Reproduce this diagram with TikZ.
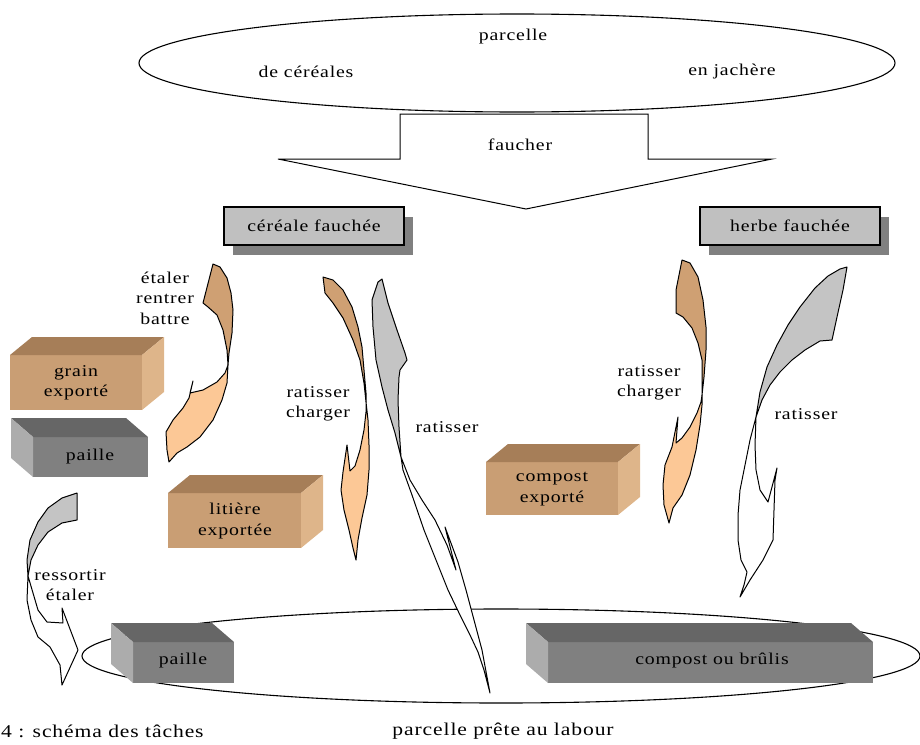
\documentclass[tikz,border=0pt]{standalone}
\usepackage{fontspec}
\setmainfont{Liberation Serif}[FakeStretch=1.2,LetterSpace=5]
\usepackage{tikz}
\usetikzlibrary{
    shapes.geometric,
    shadows
}
\definecolor{TanFront}{RGB}{201,158,116}
\definecolor{TanTop}{RGB}{166,126,88}
\definecolor{TanSide}{RGB}{222,181,138}
\definecolor{SlateFront}{RGB}{128,128,128}
\definecolor{SlateTop}{RGB}{102,102,102}
\definecolor{SlateSide}{RGB}{172,172,172}
\definecolor{TagGray}{RGB}{192,192,192}
\definecolor{ShadowGray}{RGB}{128,128,128}
\definecolor{RibbonTan}{RGB}{207,160,115}
\definecolor{RibbonPeach}{RGB}{252,200,150}
\definecolor{RibbonGray}{RGB}{196,196,196}
% crate with its side face on the right / on the left
\newcommand{\crateR}[5]{%
    \fill[#5Front] (#1,#2) rectangle (#3,#4);
    \fill[#5Top] (#1,#2) -- ++(22,-18) -- ({#3+22},{#2-18}) -- (#3,#2) -- cycle;
    \fill[#5Side] (#3,#2) -- ++(22,-18) -- ({#3+22},{#4-18}) -- (#3,#4) -- cycle;
}
\newcommand{\crateL}[5]{%
    \fill[#5Front] (#1,#2) rectangle (#3,#4);
    \fill[#5Top] (#1,#2) -- ++(-22,-19) -- ({#3-22},{#2-19}) -- (#3,#2) -- cycle;
    \fill[#5Side] (#1,#2) -- ++(-22,-19) -- ({#1-22},{#4-19}) -- (#1,#4) -- cycle;
}

\begin{document}
\begin{tikzpicture}[
    x=1pt,y=-1pt,
    word/.style={font=\fontsize{16.5}{20.5}\selectfont, align=center, inner sep=0pt},
    bigword/.style={font=\fontsize{18}{21}\selectfont, inner sep=0pt},
    field/.style={ellipse, draw, line width=1.1pt, inner sep=0pt},
    tag/.style={
        word,
        draw=black,
        line width=1.2pt,
        fill=TagGray,
        minimum width=180pt,
        minimum height=38pt,
        drop shadow={shadow xshift=9pt, shadow yshift=-10pt, fill=ShadowGray, opacity=1}
    },
    ribbon/.style={draw=black, line width=1pt, line join=round}
]
%
    \useasboundingbox (0,0) rectangle (920,744);
%
    \node[
        field,
        minimum width=756pt,
        minimum height=98pt
    ] (crop) at (517,63) {};
    \node[word] (crophead) at (513,37) {parcelle};
    \node[word] (cereal) at (306,72) {de céréales};
    \node[word] (fallow) at (732,72) {en jachère};
%
    \draw[
        line width=1pt,
        fill=white
    ]
    (400,114) -- (648,114) -- (648,159) -- (772,159)
    -- (526,209) -- (278,159) -- (400,159) -- cycle;
    \node[word] (mow) at (520,145) {faucher};
%
    \node[tag] (cutcereal) at (314,226) {céréale fauchée};
    \node[tag] (cutgrass) at (790,226) {herbe fauchée};
%
    \node[
        field,
        minimum width=838pt,
        minimum height=94pt
    ] (ready) at (501,656) {};
%
    \crateR{10}{355}{142}{410}{Tan}
    \crateL{33}{437}{148}{477}{Slate}
    \crateR{168}{493}{301}{548}{Tan}
    \crateR{486}{462}{618}{515}{Tan}
    \crateL{133}{642}{234}{683}{Slate}
    \crateL{548}{642}{873}{683}{Slate}
%
    % étaler rentrer battre
    \draw[ribbon, fill=RibbonTan]
    (213,264) -- (220,267) -- (227,278) -- (231,293) -- (233,310)
    -- (232,333) -- (229,353) -- (228,365) -- (227,350) -- (223,330)
    -- (217,315) -- (208,307) -- (203,303) -- cycle;
    \draw[ribbon, fill=RibbonPeach]
    (228,365) -- (227,383) -- (222,400) -- (213,420) -- (200,437)
    -- (187,447) -- (177,453) -- (169,462) -- (167,450) -- (166,432)
    -- (173,420) -- (183,408) -- (189,398) -- (193,381) -- (190,393)
    -- (203,390) -- (217,382) -- (225,373) -- cycle;
%
    % ratisser charger, left
    \draw[ribbon, fill=RibbonTan]
    (323,277) -- (333,280) -- (343,290) -- (352,307) -- (358,327)
    -- (362,347) -- (364,370) -- (366,393) -- (366,402) -- (364,383)
    -- (360,360) -- (353,340) -- (343,318) -- (333,303) -- (325,293) -- cycle;
    \draw[ribbon, fill=RibbonPeach]
    (366,402) -- (368,420) -- (369,445) -- (369,470) -- (367,495)
    -- (362,518) -- (358,540) -- (356,560) -- (353,548) -- (349,530)
    -- (344,510) -- (341,490) -- (343,472) -- (347,445) -- (350,471)
    -- (355,466) -- (360,450) -- (364,430) -- (366,412) -- cycle;
%
    % ratisser, middle
    \draw[ribbon, fill=RibbonGray]
    (378,282) -- (382,279) -- (388,303) -- (397,330) -- (405,353)
    -- (407,360) -- (400,370) -- (399,377) -- (398,400) -- (399,427)
    -- (401,457) -- (395,433) -- (388,410) -- (382,387) -- (376,360)
    -- (373,327) -- (372,300) -- cycle;
    \draw[ribbon, fill=white]
    (401,457) -- (410,480) -- (422,500) -- (435,520) -- (447,545)
    -- (456,570) -- (445,527) -- (458,562) -- (466,590) -- (474,620)
    -- (482,650) -- (490,693) -- (484,670) -- (478,652) -- (470,635)
    -- (460,615) -- (448,590) -- (436,560) -- (424,530) -- (412,495)
    -- (403,470) -- cycle;
%
    % ratisser charger, right
    \draw[ribbon, fill=RibbonTan]
    (682,260) -- (690,263) -- (698,277) -- (703,300) -- (706,327)
    -- (706,350) -- (704,377) -- (702,395) -- (702,383) -- (702,360)
    -- (698,343) -- (692,328) -- (683,317) -- (676,313) -- (676,290) -- cycle;
    \draw[ribbon, fill=RibbonPeach]
    (702,395) -- (702,405) -- (700,425) -- (696,450) -- (690,475)
    -- (682,495) -- (673,508) -- (669,523) -- (664,505) -- (663,485)
    -- (665,465) -- (672,447) -- (678,417) -- (676,443) -- (682,438)
    -- (690,427) -- (697,413) -- (701,402) -- cycle;
%
    % ratisser, right
    \draw[ribbon, fill=RibbonGray]
    (847,267) -- (843,290) -- (837,317) -- (832,340) -- (820,341)
    -- (805,350) -- (792,360) -- (780,372) -- (770,385) -- (762,400)
    -- (756,417) -- (760,392) -- (767,367) -- (777,345) -- (788,325)
    -- (800,307) -- (815,288) -- (828,276) -- (840,269) -- cycle;
    \draw[ribbon, fill=white]
    (756,417) -- (750,440) -- (745,465) -- (740,490) -- (738,515)
    -- (738,540) -- (741,560) -- (747,572) -- (744,585) -- (740,597)
    -- (750,580) -- (763,560) -- (773,540) -- (774,510) -- (775,480)
    -- (777,468) -- (768,502) -- (760,490) -- (756,470) -- (755,445) -- cycle;
%
    % ressortir étaler
    \draw[ribbon, fill=RibbonGray]
    (77,493) -- (77,520) -- (62,523) -- (48,532) -- (38,545)
    -- (31,560) -- (28,576) -- (27,560) -- (30,540) -- (38,522)
    -- (48,508) -- (62,498) -- cycle;
    \draw[ribbon, fill=white]
    (28,576) -- (27,600) -- (31,620) -- (38,637) -- (50,647)
    -- (60,665) -- (62,685) -- (78,650) -- (62,608) -- (63,623)
    -- (47,622) -- (38,610) -- (33,593) -- cycle;
%
    \node[word] (spread) at (165,298) {étaler\\rentrer\\battre};
    \node[word] (grain) at (76,383) {grain\\exporté};
    \node[word] (straw) at (90,457) {paille};
    \node[word] (litter) at (235,521) {litière\\exportée};
    \node[word] (rakeload) at (318,404) {ratisser\\charger};
    \node[word] (rake) at (447,427) {ratisser};
    \node[word] (compost) at (552,489) {compost\\exporté};
    \node[word] (rakeloadtwo) at (649,383) {ratisser\\charger};
    \node[word] (raketwo) at (806,414) {ratisser};
    \node[word] (takeout) at (70,585) {ressortir\\étaler};
    \node[word] (strawtwo) at (183,661) {paille};
    \node[word] (burn) at (712,661) {compost ou brûlis};
%
    \node[bigword] (plough) at (503,731) {parcelle prête au labour};
    \node[bigword, anchor=base west] (caption) at (1,737) {4 : schéma des tâches};
%
\end{tikzpicture}
\end{document}
